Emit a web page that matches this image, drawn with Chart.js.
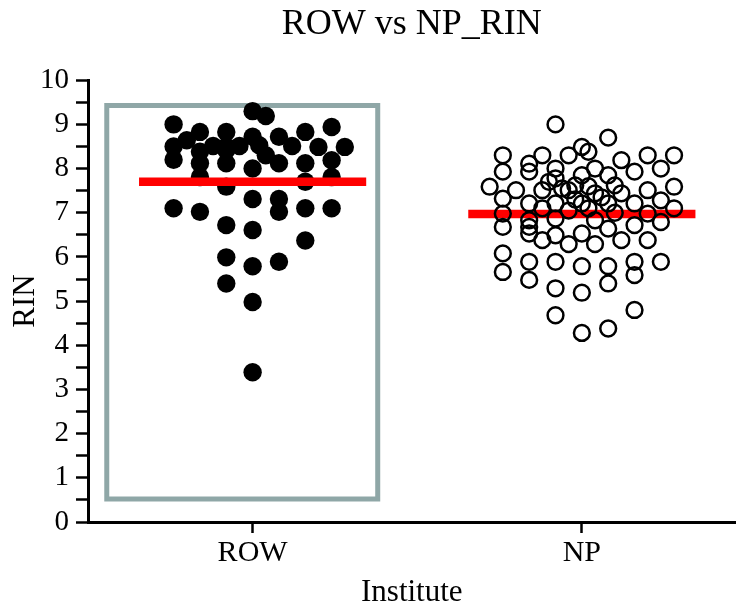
<!DOCTYPE html>
<html>
<head>
<meta charset="utf-8">
<script src="https://cdn.jsdelivr.net/npm/chart.js@4"></script>
<style>
  body { margin: 0; background: #fff; }
</style>
</head>
<body>
<canvas id="chart" width="746" height="606"></canvas>
<script>
// Data
const categories = ["ROW", "NP"];

// horizontal offset of each dot from its category centre, then its RIN value
const rowJitter = [-0.24, -0.24, -0.24, -0.24, -0.2, -0.16, -0.16, -0.16, -0.16, -0.16,
    -0.12, -0.08, -0.08, -0.08, -0.08, -0.08, -0.08, -0.08, -0.08,
    0, 0.04, 0, -0.04, 0.02, 0, 0, 0, 0, 0, 0,
    0.08, 0.12, 0.04, 0.08, 0.08, 0.08, 0.08,
    0.16, 0.16, 0.16, 0.16, 0.16,
    0.24, 0.2, 0.28, 0.24, 0.24, 0.24];
const rowValues = [9.0, 8.5, 8.2, 7.1, 8.64, 8.83, 8.38, 8.12, 7.81, 7.02,
    8.51, 8.83, 8.42, 8.12, 7.59, 6.72, 5.99, 5.4, 8.5,
    9.3, 9.19, 8.72, 8.51, 8.53, 8.0, 7.31, 6.61, 5.79, 4.98, 3.39,
    8.72, 8.51, 8.3, 8.12, 7.31, 7.02, 5.89,
    8.83, 8.12, 7.7, 7.1, 6.37,
    8.94, 8.49, 8.49, 8.19, 7.81, 7.1];

const npJitter = [-0.08, 0.08, 0, 0.02, -0.24, -0.12, -0.04, 0.12, 0.2, 0.28,
    -0.16, -0.16, -0.08, -0.24, 0.04, 0.16, 0.24, -0.08, -0.1, 0, 0.08,
    -0.28, -0.2, -0.12, -0.04, -0.02, 0.04, 0.1, 0.12, 0.2, 0.28,
    -0.24, -0.16, -0.08, 0, 0.08, 0.16, 0.24, 0.28,
    -0.24, -0.12, 0.02, 0.2,
    -0.24, -0.16, -0.16, -0.08, 0, 0.04, 0.08, 0.16, 0.24,
    -0.24, -0.24, -0.16, -0.16, -0.12, -0.08, -0.08, -0.08, -0.04,
    0, 0, 0, 0.04, 0.08, 0.08, 0.08, 0.12, 0.16, 0.16, 0.16, 0.2, 0.24,
    -0.16, -0.08, -0.06, -0.02, 0.02, 0.06, 0.1, -0.04];
const npValues = [9.0, 8.7, 8.49, 8.38, 8.3, 8.3, 8.3, 8.19, 8.3, 8.3,
    8.11, 7.93, 8.0, 7.93, 8.0, 7.93, 8.0, 7.78, 7.7, 7.85, 7.85,
    7.59, 7.51, 7.51, 7.51, 7.62, 7.44, 7.62, 7.44, 7.51, 7.59,
    7.32, 7.21, 7.21, 7.21, 7.21, 7.21, 7.28, 7.1,
    6.98, 7.1, 7.1, 6.98,
    6.68, 6.83, 6.68, 6.87, 6.53, 6.83, 6.64, 6.72, 6.79,
    6.08, 5.66, 5.89, 5.48, 6.38, 5.89, 5.29, 4.68, 6.29,
    5.79, 5.19, 4.28, 6.29, 5.79, 5.4, 4.38, 6.38, 5.89, 5.59, 4.8, 6.38, 5.89,
    6.53, 6.49, 7.55, 7.3, 7.6, 7.35, 7.0, 7.05];

const meanValues = [7.70, 6.97];
const meanHalfWidth = 0.345;

// grey selection box (x in category units, y in RIN)
const boxX = [0.557, 1.38, 1.38, 0.557, 0.557];
const boxY = [9.43, 9.43, 0.52, 0.52, 9.43];

const serif = "'Liberation Serif', 'Times New Roman', serif";

function points(center, jitter, values) {
    return values.map((v, i) => ({ x: center + jitter[i], y: v }));
}

function meanLine(i) {
    const c = i + 1;
    return [{ x: c - meanHalfWidth, y: meanValues[i] }, { x: c + meanHalfWidth, y: meanValues[i] }];
}

function initChart() {
    const ctx = document.getElementById("chart").getContext("2d");

    new Chart(ctx, {
        type: 'scatter',
        data: {
            datasets: [
                {
                    label: 'NP',
                    data: points(2, npJitter, npValues),
                    pointRadius: 7.9,
                    pointBorderWidth: 2.5,
                    pointBorderColor: '#000',
                    pointBackgroundColor: 'rgba(0,0,0,0)',
                },
                {
                    type: 'line',
                    label: 'NP mean',
                    data: meanLine(1),
                    showLine: true,
                    borderColor: '#ff0000',
                    borderWidth: 8.5,
                    pointRadius: 0,
                },
                {
                    type: 'line',
                    label: 'ROW mean',
                    data: meanLine(0),
                    showLine: true,
                    borderColor: '#ff0000',
                    borderWidth: 8.5,
                    pointRadius: 0,
                },
                {
                    label: 'ROW',
                    data: points(1, rowJitter, rowValues),
                    pointRadius: 9.2,
                    pointBorderWidth: 0,
                    pointBackgroundColor: '#000',
                },
                {
                    type: 'line',
                    label: 'box',
                    data: boxX.map((x, i) => ({ x: x, y: boxY[i] })),
                    showLine: true,
                    borderColor: '#8fa7a7',
                    borderWidth: 5,
                    borderCapStyle: 'square',
                    borderJoinStyle: 'miter',
                    pointRadius: 0,
                    fill: false,
                    clip: false,
                }
            ]
        },
        options: {
            responsive: false,
            animation: false,
            layout: { padding: 0 },
            plugins: {
                legend: { display: false },
                tooltip: { enabled: false },
                title: {
                    display: true,
                    fullSize: false,
                    text: 'ROW vs NP_RIN',
                    color: '#000',
                    font: { family: serif, size: 36, weight: 'normal', lineHeight: 1.2 },
                    padding: { top: 3, bottom: 34 }
                }
            },
            scales: {
                x: {
                    type: 'linear',
                    min: 0.5,
                    max: 2.467,
                    afterBuildTicks: scale => {
                        scale.ticks = categories.map((c, i) => ({ value: i + 1 }));
                    },
                    afterFit: scale => {
                        scale.height = 84;
                        scale.paddingLeft = 0;
                        scale.paddingRight = 0;
                    },
                    ticks: {
                        color: '#000',
                        font: { family: serif, size: 30 },
                        padding: 2,
                        maxRotation: 0,
                        callback: v => categories[v - 1]
                    },
                    grid: {
                        drawOnChartArea: false,
                        tickLength: 11,
                        tickWidth: 2.5,
                        tickColor: '#000'
                    },
                    border: { color: '#000', width: 3 },
                    title: {
                        display: true,
                        text: 'Institute',
                        color: '#000',
                        font: { family: serif, size: 31, lineHeight: 0.85 },
                        padding: 0
                    }
                },
                y: {
                    min: 0,
                    max: 10,
                    afterFit: scale => { scale.width = 88; },
                    ticks: {
                        stepSize: 0.5,
                        autoSkip: false,
                        color: '#000',
                        font: { family: serif, size: 29 },
                        padding: 7,
                        callback: v => Number.isInteger(v) ? v : ''
                    },
                    grid: {
                        drawOnChartArea: false,
                        tickLength: 12,
                        tickWidth: 2.5,
                        tickColor: '#000'
                    },
                    border: { color: '#000', width: 3 },
                    title: {
                        display: true,
                        text: 'RIN',
                        color: '#000',
                        font: { family: serif, size: 31, lineHeight: 1.2 },
                        padding: { top: 7, bottom: 0 }
                    }
                }
            }
        }
    });
}

window.addEventListener('load', initChart);
</script>
</body>
</html>
